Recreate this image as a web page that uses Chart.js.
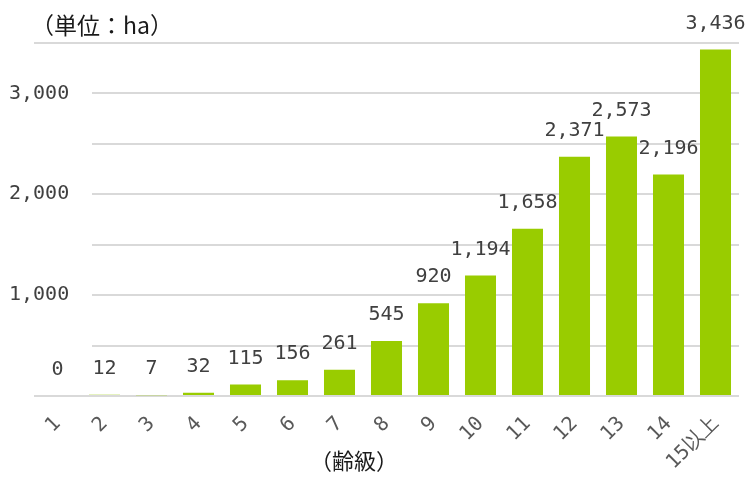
<!DOCTYPE html>
<html>
<head>
<meta charset="utf-8">
<script src="https://cdn.jsdelivr.net/npm/chart.js@4"></script>
<style>
  html, body { margin: 0; padding: 0; background: #fff; }
  #wrap { width: 747px; height: 482px; }
</style>
</head>
<body>
<div id="wrap"><canvas id="myChart"></canvas></div>
<script>
var ageClasses = ['1', '2', '3', '4', '5', '6', '7', '8', '9', '10', '11', '12', '13', '14', '15以上'];
var areaValues = [0, 12, 7, 32, 115, 156, 261, 545, 920, 1194, 1658, 2371, 2573, 2196, 3436];
var labeledTicks = [1000, 2000, 3000];
var unitTitle = '（単位：ha）';
var axisTitle = '（齢級）';

var numFont = "'DejaVu Sans Mono', monospace";
var jpFont = "'Noto Sans CJK JP', sans-serif";

function fmt(v) {
    return v.toLocaleString('en-US');
}

// hide the inner gridlines behind the y labels, like the original
var gridMask = {
    id: 'gridMask',
    beforeDatasetsDraw: function (chart) {
        var ctx = chart.ctx, y = chart.scales.y;
        var top = y.getPixelForValue(3500) + 2;
        var bottom = y.getPixelForValue(0) - 2;
        ctx.save();
        ctx.fillStyle = '#fff';
        ctx.fillRect(chart.chartArea.left - 1, top, 59, bottom - top);
        ctx.restore();
    }
};

var valueLabels = {
    id: 'valueLabels',
    afterDatasetsDraw: function (chart) {
        var ctx = chart.ctx;
        var meta = chart.getDatasetMeta(0);
        ctx.save();
        ctx.font = '20px ' + numFont;
        ctx.fillStyle = '#404040';
        ctx.textAlign = 'center';
        ctx.textBaseline = 'bottom';
        meta.data.forEach(function (bar, i) {
            ctx.fillText(fmt(areaValues[i]), bar.x, bar.y - 16);
        });
        ctx.restore();
    }
};

var titles = {
    id: 'titles',
    afterDraw: function (chart) {
        var ctx = chart.ctx;
        ctx.save();
        ctx.font = '23px ' + jpFont;
        ctx.fillStyle = '#1a1a1a';
        ctx.textBaseline = 'middle';
        ctx.textAlign = 'left';
        ctx.fillText(unitTitle, 31, 25);
        ctx.font = '22px ' + jpFont;
        ctx.textAlign = 'center';
        ctx.fillText(axisTitle, 354, 461);
        ctx.restore();
    }
};

var ctx = document.getElementById('myChart').getContext('2d');
new Chart(ctx, {
    type: 'bar',
    data: {
        labels: ageClasses,
        datasets: [{
            data: areaValues,
            backgroundColor: '#99cc00',
            borderWidth: 0,
            barPercentage: 0.66,
            categoryPercentage: 1
        }]
    },
    options: {
        responsive: true,
        maintainAspectRatio: false,
        animation: false,
        layout: { padding: { left: 5, right: 8, top: 43, bottom: 0 } },
        plugins: {
            legend: { display: false },
            tooltip: { enabled: false }
        },
        scales: {
            x: {
                grid: { display: false },
                border: { display: false },
                ticks: {
                    minRotation: 45,
                    maxRotation: 45,
                    padding: 8,
                    color: '#595959',
                    font: { family: numFont, size: 20 }
                },
                afterFit: function (scale) { scale.height = 86; }
            },
            y: {
                min: 0,
                max: 3500,
                border: { display: false },
                grid: { color: '#d9d9d9', lineWidth: 2, drawTicks: false },
                ticks: {
                    stepSize: 500,
                    z: 1,
                    mirror: true,
                    padding: -25,
                    color: '#404040',
                    font: { family: numFont, size: 20 },
                    callback: function (v) {
                        return labeledTicks.indexOf(v) >= 0 ? fmt(v) : '';
                    }
                },
                afterFit: function (scale) { scale.width = 29; }
            }
        }
    },
    plugins: [gridMask, valueLabels, titles]
});
</script>
</body>
</html>
